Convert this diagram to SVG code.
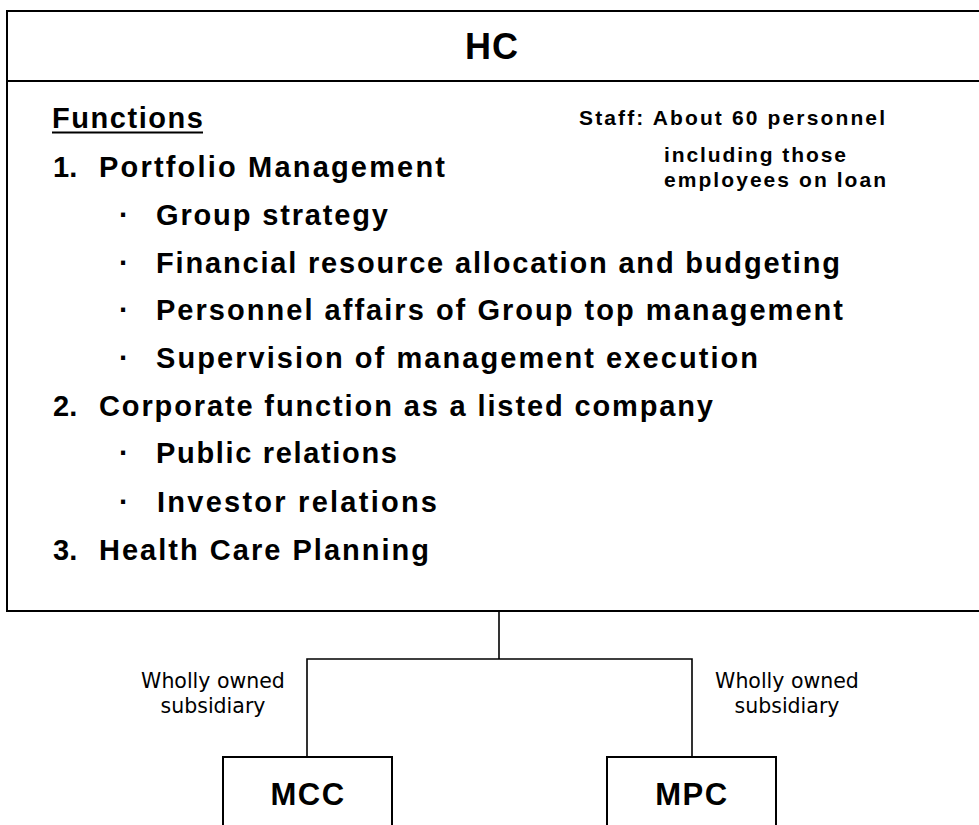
<svg xmlns="http://www.w3.org/2000/svg" width="979" height="825" viewBox="0 0 979 825">
  <style>
    .box { fill: #ffffff; stroke: #000000; stroke-width: 2; }
    .rule { stroke: #000000; stroke-width: 2; fill: none; }
    .link { stroke: #000000; stroke-width: 1.6; fill: none; }
    .title { font-family: "Liberation Sans", Arial, sans-serif; font-weight: bold; font-size: 36px; fill: #000; }
    .body { font-family: "Liberation Sans", Arial, sans-serif; font-weight: bold; font-size: 29px; fill: #000; }
    .note { font-family: "Liberation Sans", Arial, sans-serif; font-weight: bold; font-size: 21px; fill: #000; }
    .rel { font-family: "DejaVu Sans", Verdana, sans-serif; font-size: 20.5px; fill: #000; }
    .unit { font-family: "Liberation Sans", Arial, sans-serif; font-weight: bold; font-size: 31px; fill: #000; letter-spacing: 1.5px; }
  </style>
  <rect width="979" height="825" fill="#ffffff"/>

  <!-- holding company -->
  <g id="hc">
    <rect class="box" x="7" y="11" width="980" height="600"/>
    <line class="rule" x1="7" y1="81" x2="979" y2="81"/>
    <text class="title" x="492" y="59" text-anchor="middle" letter-spacing="1">HC</text>

    <text class="body" x="52" y="128" textLength="151" lengthAdjust="spacing">Functions</text>
    <line x1="52" y1="132.5" x2="203" y2="132.5" stroke="#000" stroke-width="2"/>

    <text class="note" x="579" y="125" textLength="306" lengthAdjust="spacing">Staff: About 60 personnel</text>
    <text class="note" x="664" y="162" textLength="182" lengthAdjust="spacing">including those</text>
    <text class="note" x="664" y="187" textLength="222" lengthAdjust="spacing">employees on loan</text>

    <text class="body" x="53" y="177">1.</text>
    <text class="body" x="99" y="177" textLength="346" lengthAdjust="spacing">Portfolio Management</text>
    <text class="body" x="119" y="225">·</text>
    <text class="body" x="156" y="225" textLength="232" lengthAdjust="spacing">Group strategy</text>
    <text class="body" x="119" y="273">·</text>
    <text class="body" x="156" y="273" textLength="684" lengthAdjust="spacing">Financial resource allocation and budgeting</text>
    <text class="body" x="119" y="320">·</text>
    <text class="body" x="156" y="320" textLength="687" lengthAdjust="spacing">Personnel affairs of Group top management</text>
    <text class="body" x="119" y="368">·</text>
    <text class="body" x="156" y="368" textLength="602" lengthAdjust="spacing">Supervision of management execution</text>

    <text class="body" x="53" y="416">2.</text>
    <text class="body" x="99" y="416" textLength="614" lengthAdjust="spacing">Corporate function as a listed company</text>
    <text class="body" x="119" y="463">·</text>
    <text class="body" x="156" y="463" textLength="241" lengthAdjust="spacing">Public relations</text>
    <text class="body" x="119" y="512">·</text>
    <text class="body" x="157" y="512" textLength="280" lengthAdjust="spacing">Investor relations</text>

    <text class="body" x="53" y="560">3.</text>
    <text class="body" x="99" y="560" textLength="330" lengthAdjust="spacing">Health Care Planning</text>
  </g>

  <!-- ownership connectors -->
  <g id="connectors">
    <polyline class="link" points="499,611 499,659"/>
    <polyline class="link" points="307,757 307,659 692,659 692,757"/>
    <text class="rel" x="213" y="688" text-anchor="middle">Wholly owned</text>
    <text class="rel" x="213" y="713" text-anchor="middle">subsidiary</text>
    <text class="rel" x="787" y="688" text-anchor="middle">Wholly owned</text>
    <text class="rel" x="787" y="713" text-anchor="middle">subsidiary</text>
  </g>

  <!-- subsidiaries -->
  <g id="mcc">
    <rect class="box" x="223" y="757" width="169" height="80"/>
    <text class="unit" x="308" y="805" text-anchor="middle">MCC</text>
  </g>
  <g id="mpc">
    <rect class="box" x="607" y="757" width="169" height="80"/>
    <text class="unit" x="692" y="805" text-anchor="middle">MPC</text>
  </g>
</svg>
